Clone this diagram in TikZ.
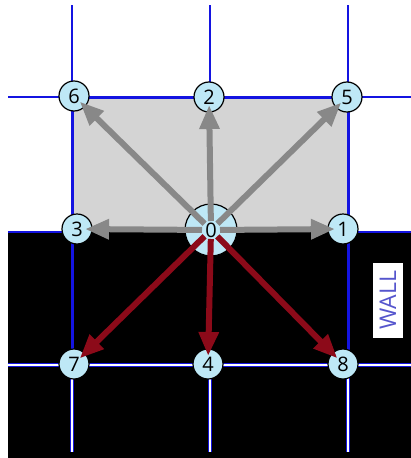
\documentclass[tikz,border=0pt]{standalone}
\usepackage{fontspec}
\setmainfont{Open Sans}
\usetikzlibrary{arrows.meta}
\definecolor{gridblue}{RGB}{20,20,225}
\definecolor{cellgray}{RGB}{212,212,212}
\definecolor{nodeblue}{RGB}{190,232,246}
\definecolor{fluidgray}{RGB}{136,136,136}
\definecolor{wallred}{RGB}{140,10,25}
\definecolor{walltext}{RGB}{85,85,205}
\tikzset{
    lattice/.style={circle, draw=black, fill=nodeblue, line width=1.2pt, minimum size=30pt, inner sep=0pt, font=\fontsize{20}{20}\selectfont},
    hub/.style={lattice, minimum size=52pt},
    gridline/.style={draw=gridblue, line width=1.8pt},
    cellborder/.style={draw=gridblue, line width=3pt},
    wallline/.style={draw=gridblue, line width=0.9pt, double=white, double distance=1.4pt},
    fluid/.style={-{Triangle[length=24pt,width=19pt]}, line width=6pt, fluidgray, shorten >=8pt, shorten <=9pt},
    bounce/.style={-{Triangle[length=24pt,width=19pt]}, line width=6pt, wallred, shorten >=8pt, shorten <=9pt},
    walllabel/.style={rotate=90, fill=white, text=walltext, font=\fontsize{23}{23}\selectfont, minimum width=75pt, minimum height=30pt, inner sep=0pt}
}

\begin{document}
\begin{tikzpicture}[x=1pt, y=-1pt]

    \useasboundingbox (0,0) rectangle (411,458);

    % solid wall below, fluid cell above
    \fill[black] (8,231) rectangle (411,458);
    \fill[cellgray] (72,97) rectangle (348,231);

    % grid in the fluid
    \draw[gridline] (72,5) -- (72,97);
    \draw[gridline] (210,5) -- (210,97);
    \draw[gridline] (348,5) -- (348,97);
    \draw[gridline] (8,97) -- (411,97);
    \draw[gridline] (8,232) -- (62,232);
    \draw[gridline] (358,232) -- (411,232);
    \draw[cellborder] (72,231) -- (72,97) -- (348,97) -- (348,231);
    \draw[cellborder] (72,231) -- (72,365);
    \draw[cellborder] (348,231) -- (348,365);

    % grid in the wall
    \draw[wallline] (8,365) -- (411,365);
    \draw[wallline] (72,365) -- (72,452);
    \draw[wallline] (210,365) -- (210,452);
    \draw[wallline] (348,365) -- (348,452);

    % lattice nodes
    \node (n6) [lattice] at (74,96) {6};
    \node (n2) [lattice] at (209,97) {2};
    \node (n5) [lattice] at (347,97) {5};
    \node (n3) [lattice] at (77,229) {3};
    \node (n0) [hub] at (211,230) {};
    \node (n1) [lattice] at (343,229) {1};
    \node (n7) [lattice] at (74,364) {7};
    \node (n4) [lattice] at (208,364) {4};
    \node (n8) [lattice] at (343,364) {8};

    % streaming directions
    \draw[fluid] (n0.center) -- (n6.center);
    \draw[fluid] (n0.center) -- (n2.center);
    \draw[fluid] (n0.center) -- (n5.center);
    \draw[fluid] (n0.center) -- (n3.center);
    \draw[fluid] (n0.center) -- (n1.center);
    \draw[bounce] (n0.center) -- (n7.center);
    \draw[bounce] (n0.center) -- (n4.center);
    \draw[bounce] (n0.center) -- (n8.center);

    \node (n0lbl) [font=\fontsize{20}{20}\selectfont, inner sep=0pt] at (n0) {0};

    \node (wall) [walllabel] at (388,300) {WALL};

\end{tikzpicture}
\end{document}
